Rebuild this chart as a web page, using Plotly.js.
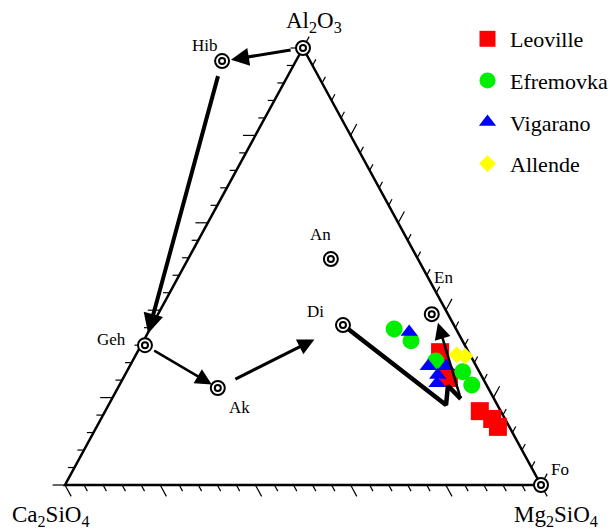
<!DOCTYPE html>
<html><head><meta charset="utf-8">
<script src="https://cdn.plot.ly/plotly-3.0.1.min.js"></script>
<style>html,body{margin:0;padding:0;background:#fff}</style>
</head><body><div id="chart" style="width:610px;height:530px"></div>
<script>
// Ternary fractions: Al2O3 (top), Ca2SiO4 (bottom left), Mg2SiO4 (bottom right)
const vertexLabels = ["Al<sub>2</sub>O<sub>3</sub>", "Ca<sub>2</sub>SiO<sub>4</sub>", "Mg<sub>2</sub>SiO<sub>4</sub>"];

// Reference minerals
const mineralNames   = ["Al2O3", "Hib", "Geh", "Ak", "An", "Di", "En", "Fo"];
const mineralLabels  = ["", "Hib", "Geh", "Ak", "An", "Di", "En", "Fo"];
const mineralAl2O3   = [1.000, 0.970, 0.320, 0.222, 0.517, 0.366, 0.391, 0.000];
const mineralCa2SiO4 = [0.000, 0.185, 0.672, 0.568, 0.183, 0.233, 0.034, 0.000];
const mineralMg2SiO4 = [0.000, -0.155, 0.008, 0.210, 0.300, 0.401, 0.575, 1.000];

// Chondrite data
const seriesNames = ["Leoville", "Efremovka", "Vigarano", "Allende"];
const leovilleAl  = [0.304, 0.245, 0.169, 0.151, 0.133];
const leovilleCa  = [0.060, 0.071, 0.044, 0.027, 0.024];
const leovilleMg  = [0.636, 0.684, 0.787, 0.822, 0.843];
const efremovkaAl = [0.357, 0.330, 0.284, 0.259, 0.229];
const efremovkaCa = [0.130, 0.108, 0.079, 0.035, 0.031];
const efremovkaMg = [0.513, 0.562, 0.637, 0.706, 0.740];
const vigaranoAl  = [0.350, 0.272, 0.272, 0.252, 0.233];
const vigaranoCa  = [0.102, 0.101, 0.063, 0.091, 0.102];
const vigaranoMg  = [0.548, 0.627, 0.665, 0.657, 0.665];
const allendeAl   = [0.298, 0.295];
const allendeCa   = [0.028, 0.012];
const allendeMg   = [0.674, 0.693];

// Condensation path from Di (thick line), ending with an arrow
const pathAl = [0.366, 0.183, 0.227, 0.197];
const pathCa = [0.233, 0.108, 0.082, 0.070];
const pathMg = [0.401, 0.709, 0.691, 0.733];
const pathEndAl = 0.371, pathEndCa = 0.031, pathEndMg = 0.598;

// Arrows between minerals
const arrowFrom = ["Al2O3", "Hib", "Geh", "Ak"];
const arrowTo   = ["Hib", "Geh", "Ak", "Di"];

const tickStep = 0.04;

// ---------- helpers ----------
function toXY(al, ca, mg) {
  const s = al + ca + mg;
  return [mg / s + 0.5 * al / s, al / s];
}
function project(A, B, C) {
  const xs = [], ys = [];
  for (let i = 0; i < A.length; i++) {
    if (A[i] === null) { xs.push(null); ys.push(null); continue; }
    const p = toXY(A[i], B[i], C[i]); xs.push(p[0]); ys.push(p[1]);
  }
  return {x: xs, y: ys};
}
function mineral(name) {
  const i = mineralNames.indexOf(name);
  return toXY(mineralAl2O3[i], mineralCa2SiO4[i], mineralMg2SiO4[i]);
}

const FONT = "Liberation Serif";
const traces = [];

// Triangle frame
const frame = project([1, 0, 0, 1], [0, 1, 0, 0], [0, 0, 1, 0]);
traces.push({type: "scatter", mode: "lines", x: frame.x, y: frame.y, showlegend: false,
  hoverinfo: "skip", line: {color: "black", width: 2.5}});

// Ticks
const tA = [], tB = [], tC = [];
const nT = Math.round(1 / tickStep);
for (let i = 0; i <= nT; i++) {
  const t = i * tickStep;
  const d = (i % 5 === 0) ? 0.026 : 0.014;
  // left edge (constant Al2O3), pointing left
  tA.push(t, t, null); tB.push(1 - t, 1 - t + d, null); tC.push(0, -d, null);
  // bottom edge (constant Ca2SiO4), pointing down-right
  tA.push(0, -d, null); tB.push(t, t, null); tC.push(1 - t, 1 - t + d, null);
  // right edge (constant Mg2SiO4), pointing up-right
  tA.push(1 - t, 1 - t + d, null); tB.push(0, -d, null); tC.push(t, t, null);
}
const ticks = project(tA, tB, tC);
traces.push({type: "scatter", mode: "lines", x: ticks.x, y: ticks.y, showlegend: false,
  hoverinfo: "skip", connectgaps: false, line: {color: "black", width: 1.2}});

// Data series
const seriesData = [
  [leovilleAl, leovilleCa, leovilleMg, {symbol: "square", color: "#ff0000", size: 18}],
  [efremovkaAl, efremovkaCa, efremovkaMg, {symbol: "circle", color: "#00ee00", size: 17}],
  [vigaranoAl, vigaranoCa, vigaranoMg, {symbol: "triangle-up", color: "#0000ff", size: 15}],
  [allendeAl, allendeCa, allendeMg, {symbol: "diamond", color: "#ffff00", size: 13}]
];
seriesData.forEach((s, k) => {
  const p = project(s[0], s[1], s[2]);
  traces.push({type: "scatter", mode: "markers", name: seriesNames[k], legendgroup: seriesNames[k],
    x: p.x, y: p.y, cliponaxis: false,
    marker: {symbol: s[3].symbol, color: s[3].color, size: s[3].size, line: {width: 0}}});
});

// Thick path from Di
const path = project(pathAl, pathCa, pathMg);
traces.push({type: "scatter", mode: "lines", x: path.x, y: path.y, showlegend: false,
  hoverinfo: "skip", line: {color: "black", width: 4.5}});

// Mineral markers (double circle)
const mins = project(mineralAl2O3, mineralCa2SiO4, mineralMg2SiO4);
traces.push({type: "scatter", mode: "markers", x: mins.x, y: mins.y, showlegend: false,
  cliponaxis: false, hoverinfo: "skip",
  marker: {symbol: "circle", size: 14, color: "white", line: {color: "black", width: 2}}});
traces.push({type: "scatter", mode: "markers", x: mins.x, y: mins.y, showlegend: false,
  cliponaxis: false, hoverinfo: "skip",
  marker: {symbol: "circle-open", size: 6, color: "black", line: {color: "black", width: 2}}});

// Annotations
const annotations = [];
const arrowStyle = [
  {w: 3, size: 1.2, so: 9, sso: 11},
  {w: 4, size: 1.0, so: 12, sso: 14},
  {w: 2.5, size: 1.3, so: 7, sso: 9},
  {w: 3, size: 1.1, so: 32, sso: 18}
];
arrowFrom.forEach((f, i) => {
  const a = mineral(f), b = mineral(arrowTo[i]);
  const st = arrowStyle[i];
  annotations.push({x: b[0], y: b[1], ax: a[0], ay: a[1], xref: "x", yref: "y", axref: "x", ayref: "y",
    text: "", showarrow: true, arrowhead: 2, arrowsize: st.size, arrowwidth: st.w, arrowcolor: "black",
    standoff: st.so, startstandoff: st.sso});
});
{
  const n = pathAl.length - 1;
  const a = toXY(pathAl[n], pathCa[n], pathMg[n]);
  const b = toXY(pathEndAl, pathEndCa, pathEndMg);
  annotations.push({x: b[0], y: b[1], ax: a[0], ay: a[1], xref: "x", yref: "y", axref: "x", ayref: "y",
    text: "", showarrow: true, arrowhead: 2, arrowsize: 1.3, arrowwidth: 2.5, arrowcolor: "black",
    standoff: 0, startstandoff: 0});
}

// Mineral labels
const labelShift = {Hib: [-17, 16], Geh: [-33, 6], Ak: [22, -20], An: [-10, 25], Di: [-27, 14], En: [12, 37], Fo: [19, 16]};
mineralNames.forEach((n, i) => {
  if (!mineralLabels[i]) return;
  const sh = labelShift[n];
  annotations.push({x: mins.x[i], y: mins.y[i], xref: "x", yref: "y", text: mineralLabels[i], showarrow: false,
    xshift: sh[0], yshift: sh[1], font: {family: FONT, size: 17, color: "black"}});
});

// Vertex labels
const vPos = [toXY(1, 0, 0), toXY(0, 1, 0), toXY(0, 0, 1)];
const vShift = [[11, 26], [-15, -31], [15, -31]];
vertexLabels.forEach((t, i) => {
  annotations.push({x: vPos[i][0], y: vPos[i][1], xref: "x", yref: "y", text: t, showarrow: false,
    xshift: vShift[i][0], yshift: vShift[i][1], font: {family: FONT, size: 23, color: "black"}});
});

// Pixel frame of the triangle
const W = 610, H = 530, left = 65, right = 541, base = 485, apex = 48;
const sx = right - left, sy = base - apex;

const layout = {
  width: W, height: H, autosize: false,
  margin: {l: 0, r: 0, t: 0, b: 0, pad: 0, autoexpand: false},
  paper_bgcolor: "white", plot_bgcolor: "white",
  xaxis: {range: [-left / sx, (W - left) / sx], visible: false, fixedrange: true},
  yaxis: {range: [-(H - base) / sy, base / sy], visible: false, fixedrange: true},
  showlegend: true,
  legend: {x: 465 / W, y: 1 - 18 / H, xanchor: "left", yanchor: "top", bgcolor: "rgba(0,0,0,0)",
    font: {family: FONT, size: 22, color: "black"}, tracegroupgap: 10, itemwidth: 35},
  annotations: annotations,
  font: {family: FONT}
};

Plotly.newPlot("chart", traces, layout, {displayModeBar: false, staticPlot: true});
</script>
</body></html>
